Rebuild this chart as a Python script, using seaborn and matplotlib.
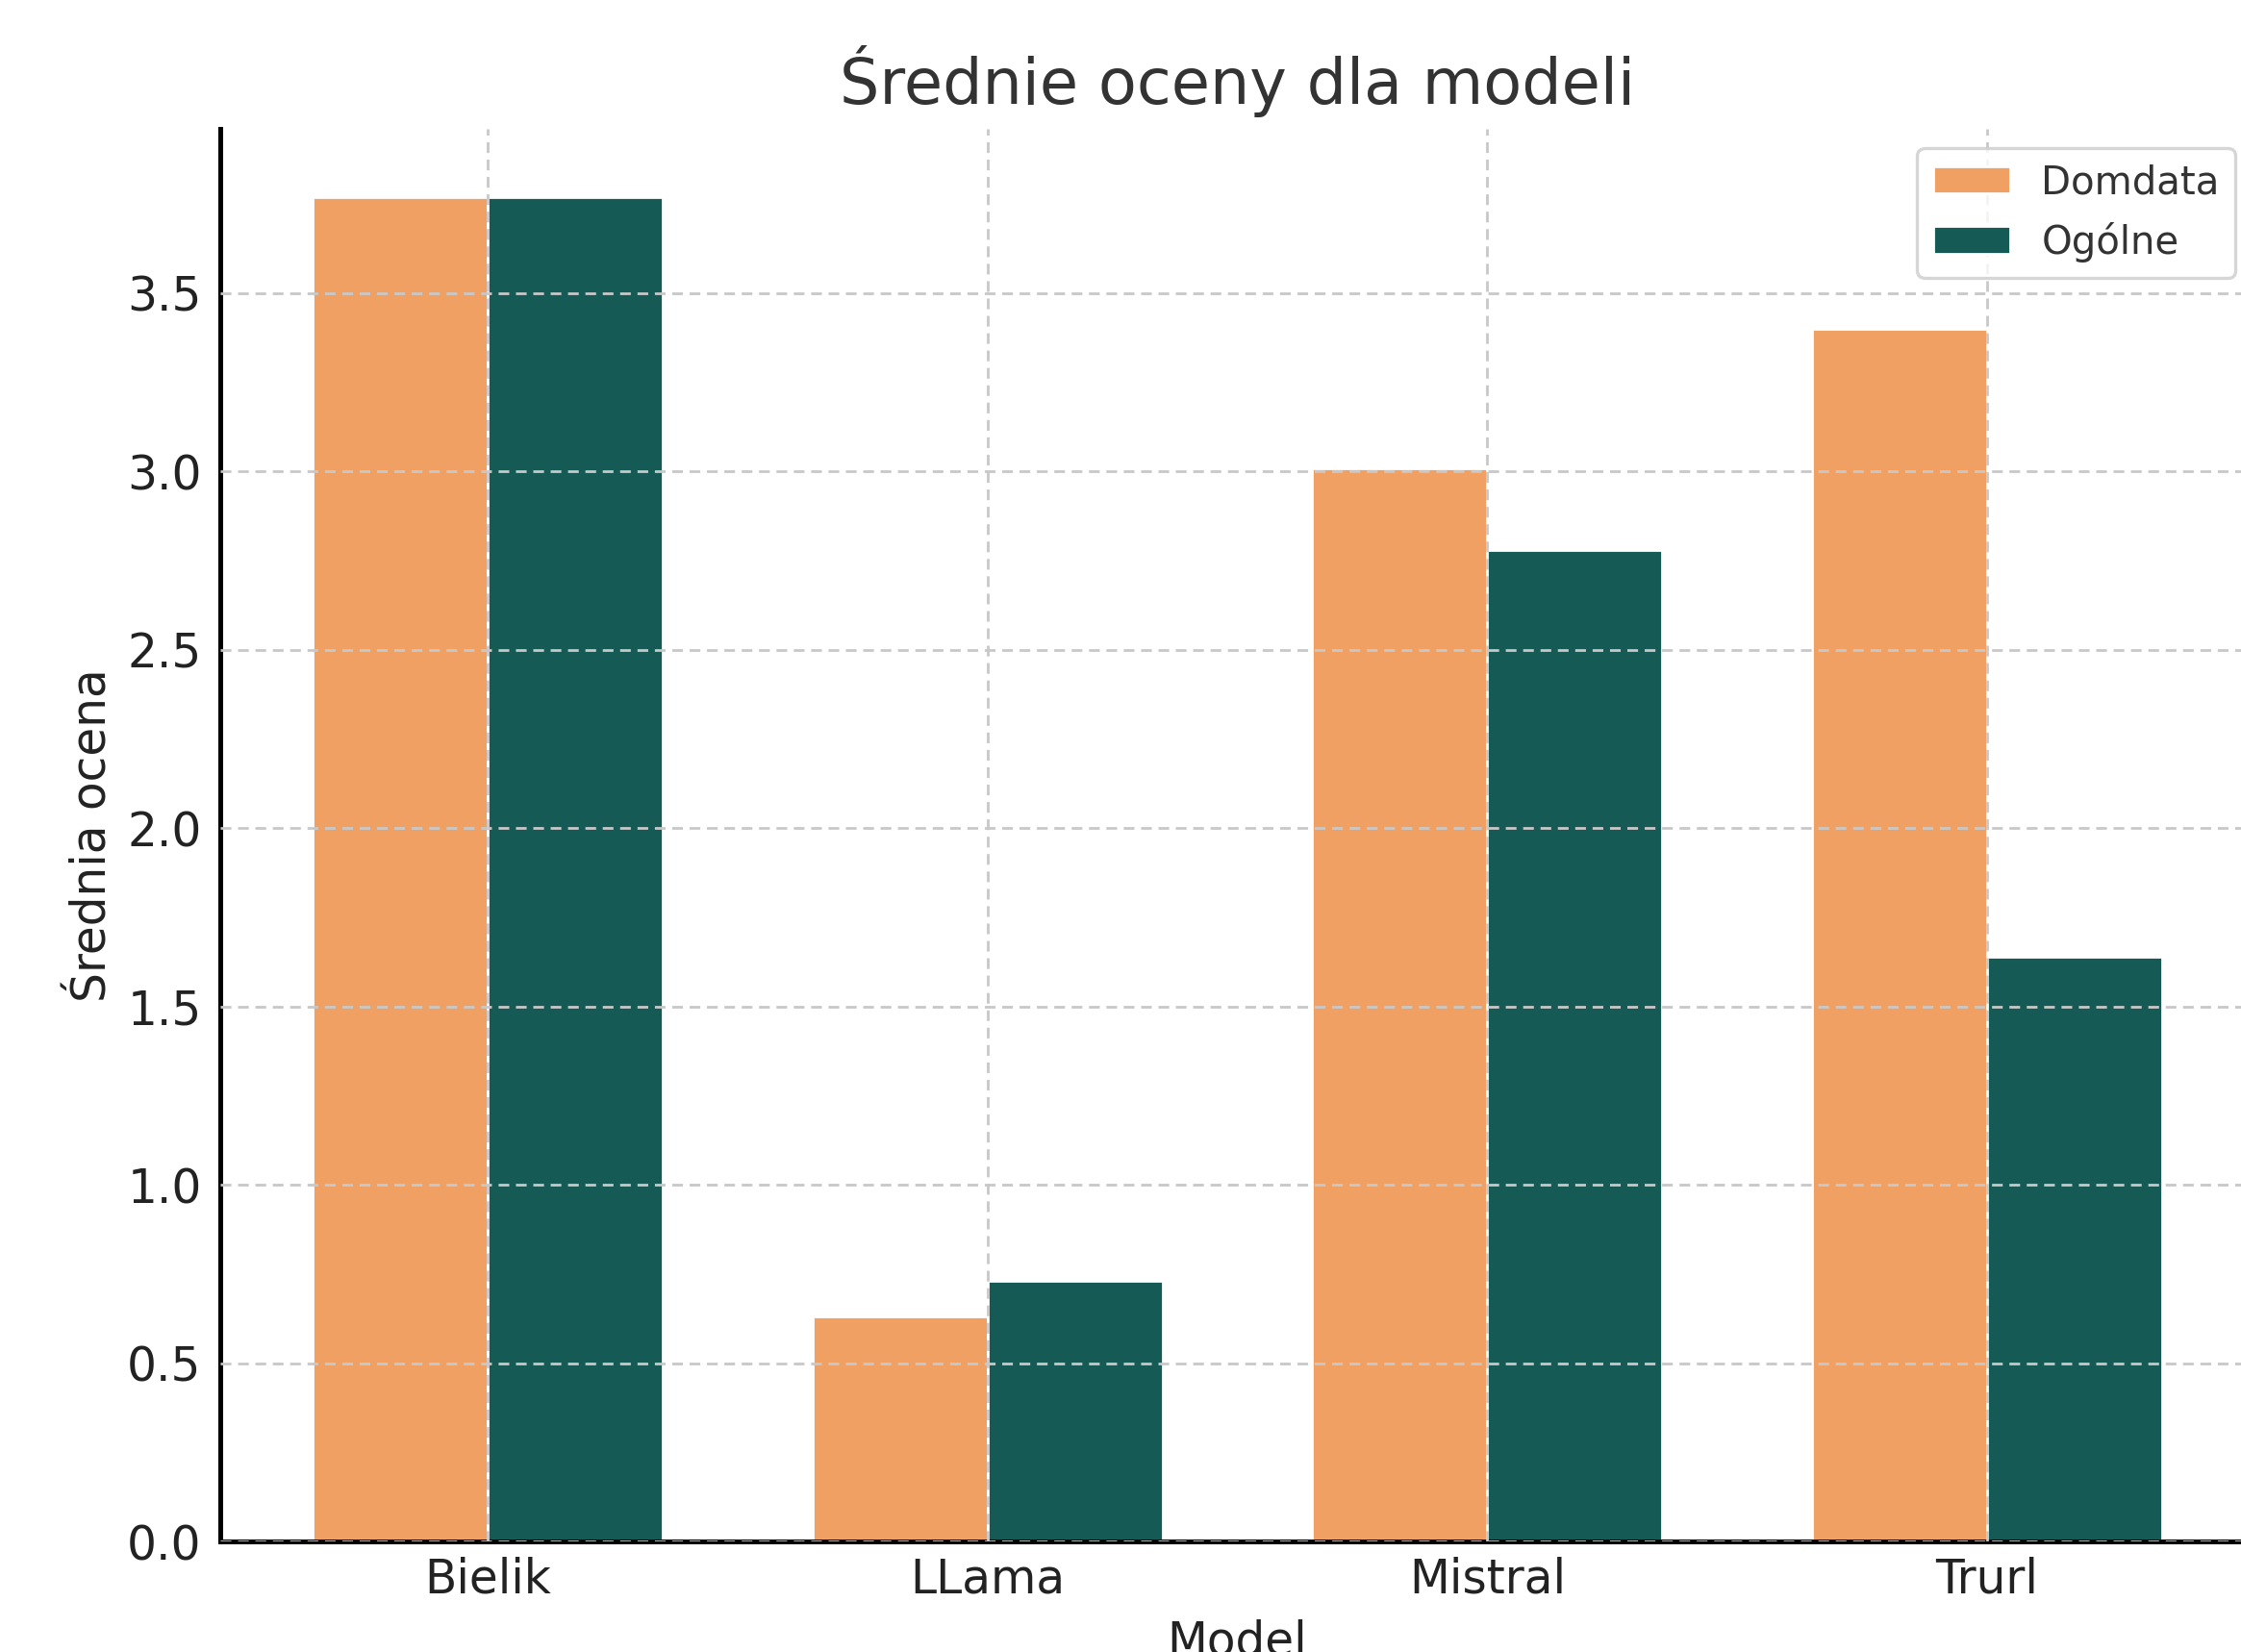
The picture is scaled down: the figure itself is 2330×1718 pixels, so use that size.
import matplotlib
matplotlib.use("Agg")
import matplotlib.pyplot as plt
import seaborn as sns
import pandas as pd

# chart data
models = ["Bielik", "LLama", "Mistral", "Trurl"]
domdata_scores = [3.77, 0.63, 3.01, 3.40]
ogolne_scores = [3.77, 0.73, 2.78, 1.64]
series_names = ["Domdata", "Ogólne"]
colors = ["#F0A062", "#165A56"]

df = pd.DataFrame(
    {
        "Model": models * 2,
        "Score": domdata_scores + ogolne_scores,
        "Type": [series_names[0]] * len(models) + [series_names[1]] * len(models),
    }
)

sns.set_style("white")
plt.rcParams["font.family"] = ["DejaVu Sans"]

fig = plt.figure(figsize=(11.65, 8.59), dpi=200)
ax = fig.add_axes([0.0983, 0.0669, 0.9077, 0.855])

sns.barplot(
    data=df,
    x="Model",
    y="Score",
    hue="Type",
    palette=colors,
    width=0.7,
    saturation=1,
    ax=ax,
)

ax.set_xlim(-0.535, 3.535)
ax.set_ylim(0, 3.96)

ax.set_axisbelow(False)
ax.grid(True, linestyle="--", color="#c8c8c8", linewidth=1.0, dashes=(4, 2.5))

sns.despine(ax=ax)
for side in ["left", "bottom"]:
    ax.spines[side].set_color("black")
    ax.spines[side].set_linewidth(1.8)

ax.tick_params(
    axis="both", direction="in", length=4, width=1.5, colors="black",
    labelsize=17.5, labelcolor="#222222", pad=7,
)
ax.tick_params(axis="x", pad=5.5)

ax.set_title("Średnie oceny dla modeli", fontsize=23.5, color="#333333", pad=9.5)
ax.set_xlabel("Model", fontsize=17.5, color="#222222", labelpad=6)
ax.set_ylabel("Średnia ocena", fontsize=17.5, color="#222222", labelpad=4)

leg = ax.legend(
    loc="upper right", fontsize=14.5, frameon=True, fancybox=True,
    title=None, handlelength=2.0, handleheight=0.7,
)
leg.get_frame().set_edgecolor("#cccccc")
leg.get_frame().set_linewidth(1.2)
for t in leg.get_texts():
    t.set_color("#333333")

fig.savefig("out.png", dpi=200)
